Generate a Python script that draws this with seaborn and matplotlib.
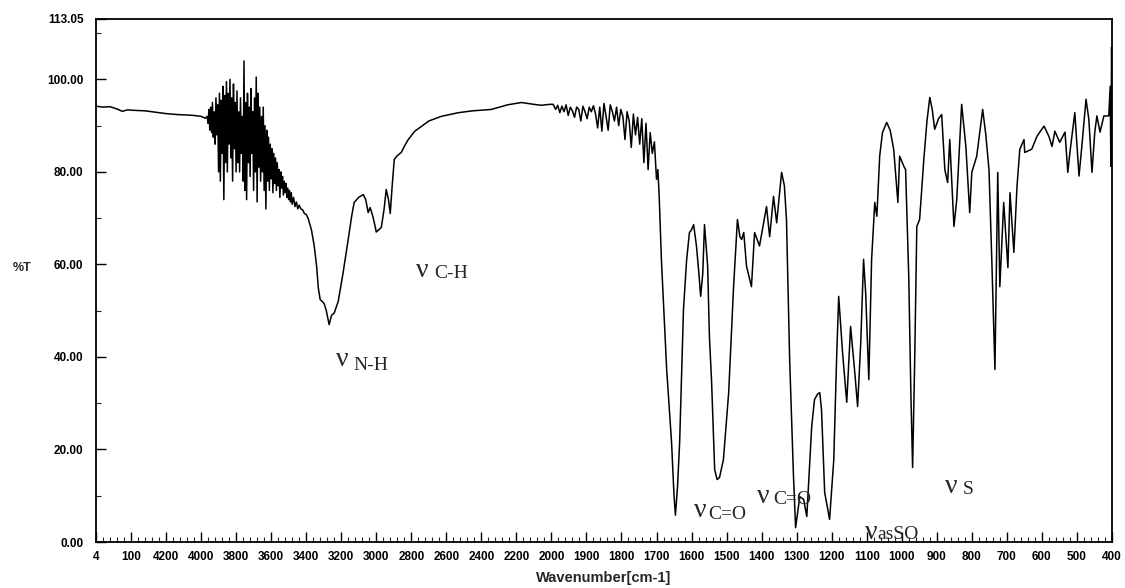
import numpy as np
import pandas as pd
import matplotlib
matplotlib.use("Agg")
import matplotlib.pyplot as plt
import seaborn as sns
from matplotlib.ticker import FixedLocator

# ---------------- data ----------------
wavenumber = [
    4600, 4560, 4520, 4480, 4450, 4420, 4380, 4320, 4260, 4200, 4140, 4080, 4040, 4000, 3975,
    3965, 3960, 3955, 3950, 3945, 3940, 3935, 3930, 3925, 3920, 3915, 3910, 3905, 3900, 3895,
    3890, 3885, 3880, 3875, 3870, 3865, 3860, 3855, 3850, 3845, 3840, 3835, 3830, 3825, 3820,
    3815, 3810, 3805, 3800, 3795, 3790, 3785, 3780, 3775, 3770, 3765, 3760, 3755, 3750, 3745,
    3740, 3735, 3730, 3725, 3720, 3715, 3710, 3705, 3700, 3695, 3690, 3685, 3680, 3675, 3670,
    3665, 3660, 3655, 3650, 3645, 3640, 3635, 3630, 3625, 3620, 3615, 3610, 3605, 3600, 3595,
    3590, 3585, 3580, 3575, 3570, 3565, 3560, 3555, 3550, 3545, 3540, 3535, 3530, 3525, 3520,
    3515, 3510, 3505, 3500, 3495, 3490, 3485, 3480, 3472, 3464, 3456, 3448, 3440, 3430, 3420,
    3410, 3400, 3389, 3370, 3354, 3340, 3331, 3320, 3308, 3297,
    3285, 3269, 3255, 3240, 3217, 3190, 3160, 3140, 3126, 3100, 3074, 3060, 3046, 3035, 3020,
    3008, 3000, 2985, 2971, 2955, 2943, 2930, 2920, 2910, 2897, 2880, 2857, 2840, 2817, 2780,
    2743, 2700, 2629, 2531, 2450, 2343, 2250, 2171, 2100, 2057, 2010,
    1995, 1988, 1982, 1976, 1970, 1964, 1958, 1952, 1946, 1940, 1934, 1928, 1922, 1916, 1910,
    1904, 1898, 1892, 1886, 1880, 1874, 1868, 1862, 1856, 1850, 1844, 1838, 1832, 1826, 1820,
    1814, 1808, 1802, 1796, 1790, 1784, 1778, 1772, 1766, 1760, 1754, 1748, 1742, 1736, 1730,
    1724, 1718, 1712, 1706, 1700, 1696, 1692,
    1686, 1671, 1657, 1650, 1646, 1640, 1634, 1623, 1614, 1606, 1600, 1594, 1586, 1579,
    1574, 1568, 1563, 1554, 1549, 1543, 1534, 1527, 1520, 1509, 1494, 1480, 1469, 1462, 1457,
    1451, 1443, 1429, 1420, 1406, 1391, 1386, 1377, 1366, 1357, 1343, 1335, 1329, 1320, 1309,
    1303, 1291, 1280, 1271, 1257, 1249, 1240, 1234, 1229, 1220, 1206, 1194, 1186, 1180, 1169,
    1157, 1146, 1134, 1126, 1117, 1109, 1103, 1094, 1086, 1077, 1071, 1063, 1055, 1043, 1033,
    1023, 1011, 1006, 994, 989, 980, 974, 969, 963, 957, 949, 937, 928, 920, 913,
    906, 895, 886, 877, 869, 863, 851, 843, 829, 817, 806, 800, 786, 769, 760,
    751, 743, 734, 726, 720, 709, 697, 691, 680, 671, 663, 651, 649, 629, 614,
    594, 580, 571, 563, 549, 534, 526, 520, 506, 494, 486, 474, 466, 457, 449,
    443, 434, 423, 409, 405, 403, 401, 400,
]
transmittance = [
    94.2, 94.0, 94.1, 93.6, 93.1, 93.4, 93.3, 93.2, 92.9, 92.6, 92.4, 92.3, 92.2, 92.0, 91.6,
    92.0, 90.5, 93.5, 89.0, 94.0, 88.5, 95.0, 87.5, 93.0, 86.0, 96.0, 88.0, 94.5, 80.0, 97.0,
    78.0, 95.5, 84.0, 98.5, 74.0, 96.5, 82.0, 99.5, 80.0, 97.0, 86.0, 100.0, 83.0, 96.0, 78.0,
    99.0, 85.0, 95.0, 80.0, 97.5, 82.0, 93.0, 80.0, 96.0, 84.0, 92.0, 78.0, 104.0, 76.0, 95.0,
    74.0, 97.0, 82.0, 94.0, 79.0, 98.0, 84.0, 93.0, 76.0, 96.0, 80.0, 100.5, 73.5, 97.0, 81.0,
    94.0, 78.0, 92.0, 80.0, 94.0, 76.0, 90.0, 72.0, 89.0, 78.0, 87.5, 76.0, 86.0, 78.5, 85.0,
    75.5, 84.0, 77.5, 83.0, 76.0, 82.0, 77.0, 80.5, 74.5, 80.0, 76.5, 79.0, 75.0, 78.0, 75.5,
    77.5, 74.5, 76.5, 74.0, 76.0, 73.5, 75.5, 73.0, 74.5, 72.5, 73.5, 72.0, 72.8, 72.0, 71.8,
    71.0, 70.8, 70.0, 67.5, 64.0, 59.5, 55.0, 52.4, 52.0, 51.5,
    50.0, 47.0, 49.0, 49.5, 52.0, 58.0, 65.4, 70.5, 73.4, 74.5, 75.1, 74.0, 71.2, 72.3, 70.5,
    68.5, 67.0, 67.5, 68.0, 72.0, 76.2, 74.0, 71.0, 76.5, 82.7, 83.5, 84.2, 85.5, 87.0, 88.8,
    89.8, 91.0, 92.0, 92.8, 93.2, 93.5, 94.5, 95.0, 94.6, 94.4, 94.6,
    94.6, 93.5, 94.4, 92.8, 94.2, 93.0, 94.5, 92.2, 94.0, 93.2, 91.8, 94.0, 93.5, 91.0, 94.2,
    93.0, 91.5, 94.0, 93.0, 94.3, 92.5, 89.5, 94.0, 88.8, 94.8, 92.0, 89.0, 94.5, 93.0, 91.0,
    94.0, 90.0, 93.5, 92.0, 87.0, 93.0, 91.0, 85.3, 92.5, 88.0, 91.8, 86.0, 91.5, 82.0, 90.5,
    80.5, 88.5, 84.0, 86.5, 78.4, 80.5, 74.0,
    61.0, 37.3, 21.5, 10.0, 5.8, 12.0, 21.5, 50.3, 61.0, 66.9, 67.5, 68.6, 64.0, 58.0,
    53.1, 58.0, 68.6, 59.6, 44.4, 35.1, 15.7, 13.5, 14.0, 17.8, 32.3, 55.2, 69.7, 66.0, 65.4,
    66.9, 59.6, 55.2, 66.9, 64.0, 70.4, 72.5, 66.0, 74.7, 69.0, 79.9, 77.0, 69.7, 39.5, 14.2,
    3.1, 9.8, 9.2, 5.5, 25.0, 30.8, 32.0, 32.3, 28.6, 10.7, 4.9, 17.8, 39.5, 53.1, 41.0,
    30.2, 46.6, 36.6, 29.3, 43.1, 61.1, 53.9, 35.1, 61.1, 73.4, 70.4, 83.4, 88.5, 90.7, 89.0,
    84.9, 73.4, 83.4, 81.2, 80.5, 57.4, 32.3, 16.1, 39.5, 68.2, 69.7, 82.7, 91.0, 96.1, 93.5,
    89.2, 91.5, 92.4, 80.5, 77.7, 87.0, 68.2, 74.0, 94.6, 85.5, 71.2, 79.9, 83.4, 93.5, 88.0,
    80.5, 61.1, 37.3, 79.9, 55.2, 73.4, 59.3, 75.5, 62.6, 76.9, 84.9, 87.0, 84.2, 84.9, 87.7,
    89.9, 87.7, 85.5, 88.8, 86.4, 88.6, 79.9, 84.2, 92.8, 79.1, 85.5, 95.7, 91.4, 79.9, 88.6,
    92.1, 88.6, 92.1, 92.1, 98.5, 81.2, 107.0, 100.0,
]

y_ticks = [0, 20, 40, 60, 80, 100, 113.05]
y_tick_labels = ["0.00", "20.00", "40.00", "60.00", "80.00", "100.00", "113.05"]
x_ticks = [4600, 4400, 4200, 4000, 3800, 3600, 3400, 3200, 3000, 2800, 2600, 2400, 2200,
           2000, 1900, 1800, 1700, 1600, 1500, 1400, 1300, 1200, 1100, 1000, 900, 800,
           700, 600, 500, 400]
x_tick_labels = ["4", "100", "4200", "4000", "3800", "3600", "3400", "3200", "3000", "2800",
                 "2600", "2400", "2200", "2000", "1900", "1800", "1700", "1600", "1500",
                 "1400", "1300", "1200", "1100", "1000", "900", "800", "700", "600", "500", "400"]

# annotations: nu symbol position and subscript position (wavenumber, %T)
ann_sub = ["N-H", "C-H", "C=O", "C=O", "asSO", "S"]
ann_nu_x = [3229, 2771, 1594, 1414, 1106, 877]
ann_nu_y = [39.5, 58.7, 6.8, 9.8, 2.0, 12.0]
ann_sub_x = [3131, 2669, 1551, 1366, 1069, 826]
ann_sub_y = [38.2, 58.0, 5.9, 9.2, 1.6, 11.4]

# ---------------- plot ----------------
sns.set_theme(style="white")
plt.rcParams["font.family"] = ["Liberation Sans", "DejaVu Sans"]

df = pd.DataFrame({"wn": wavenumber, "T": transmittance})

fig = plt.figure(figsize=(11.25, 5.88), dpi=100)
ax = fig.add_axes([0.0853, 0.0782, 0.9031, 0.8895])


def fwd(x):
    x = np.asarray(x, dtype=float)
    return np.where(x <= 2000, x, 2000 + (x - 2000) / 2.0)


def inv(y):
    y = np.asarray(y, dtype=float)
    return np.where(y <= 2000, y, 2000 + (y - 2000) * 2.0)


ax.set_xscale("function", functions=(fwd, inv))

sns.lineplot(data=df, x="wn", y="T", ax=ax, color="black", linewidth=1.1,
             sort=False, estimator=None)

ax.set_xlim(4600, 400)
ax.set_ylim(0, 113.05)

ax.xaxis.set_major_locator(FixedLocator(x_ticks))
ax.set_xticklabels(x_tick_labels)
minor_x = list(range(4600, 2000, -40)) + list(range(2000, 400, -20))
ax.xaxis.set_minor_locator(FixedLocator(minor_x))

ax.set_yticks(y_ticks)
ax.set_yticklabels(y_tick_labels)
ax.yaxis.set_minor_locator(FixedLocator([10, 30, 50, 70, 90, 110]))

ax.tick_params(axis="x", which="major", direction="in", length=7, width=1.0,
               pad=6.5, labelsize=8.5, colors="black", bottom=True, top=False)
ax.tick_params(axis="x", which="minor", direction="in", length=3.5, width=0.8,
               bottom=True, top=False)
ax.tick_params(axis="y", which="major", direction="in", length=7, width=1.0,
               pad=9, labelsize=8.5, colors="black", left=True, right=False)
ax.tick_params(axis="y", which="minor", direction="in", length=3.5, width=0.8,
               left=True, right=False)
for lab in ax.get_xticklabels() + ax.get_yticklabels():
    lab.set_fontweight("bold")

for side in ["left", "bottom", "top", "right"]:
    ax.spines[side].set_visible(True)
    ax.spines[side].set_color("black")
    ax.spines[side].set_linewidth(1.3)

ax.set_xlabel("Wavenumber[cm-1]", fontsize=10.5, fontweight="bold", labelpad=6)
ax.set_ylabel("")
fig.text(22 / 1125, 1 - 268 / 588, "%T", fontsize=9, fontweight="bold",
         ha="center", va="center")

serif = ["Liberation Serif", "DejaVu Serif"]
for sub, nx, ny, sx, sy in zip(ann_sub, ann_nu_x, ann_nu_y, ann_sub_x, ann_sub_y):
    ax.text(nx, ny, "\u03bd", fontsize=20, family=serif, ha="left", va="center",
            clip_on=False)
    ax.text(sx, sy, sub, fontsize=14, family=serif, ha="left", va="center",
            clip_on=False)

fig.savefig("out.png", dpi=100)
